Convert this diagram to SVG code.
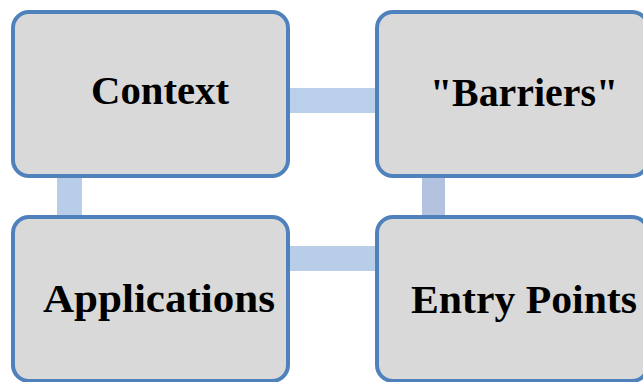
<svg xmlns="http://www.w3.org/2000/svg" width="643" height="382" viewBox="0 0 643 382">
  <style>
    .box { fill: #d9d9d9; stroke: #4f81bd; stroke-width: 4; }
    .label { font-family: "Liberation Serif", "DejaVu Serif", serif; font-weight: bold; font-size: 41px; fill: #000; text-anchor: middle; }
  </style>
  <rect width="643" height="382" fill="#ffffff"/>
  <g id="connectors">
    <rect x="285" y="88" width="95" height="25" fill="#bad0ea"/>
    <rect x="57" y="172" width="25" height="48" fill="#b8cde8"/>
    <rect x="422" y="172" width="23" height="48" fill="#b3c3df"/>
    <rect x="285" y="246" width="95" height="25" fill="#b7cde8"/>
  </g>
  <g id="context">
    <rect class="box" x="13" y="12" width="275" height="164" rx="16"/>
    <text class="label" x="160" y="104" textLength="138" lengthAdjust="spacingAndGlyphs">Context</text>
  </g>
  <g id="barriers">
    <rect class="box" x="377" y="12" width="271" height="164" rx="16"/>
    <text class="label" x="524" y="106" textLength="188" lengthAdjust="spacingAndGlyphs">"Barriers"</text>
  </g>
  <g id="applications">
    <rect class="box" x="13" y="217" width="275" height="164" rx="16"/>
    <text class="label" x="159" y="312" textLength="232" lengthAdjust="spacingAndGlyphs">Applications</text>
  </g>
  <g id="entry-points">
    <rect class="box" x="377" y="217" width="271" height="164" rx="16"/>
    <text class="label" x="524" y="313" textLength="226" lengthAdjust="spacingAndGlyphs">Entry Points</text>
  </g>
</svg>
